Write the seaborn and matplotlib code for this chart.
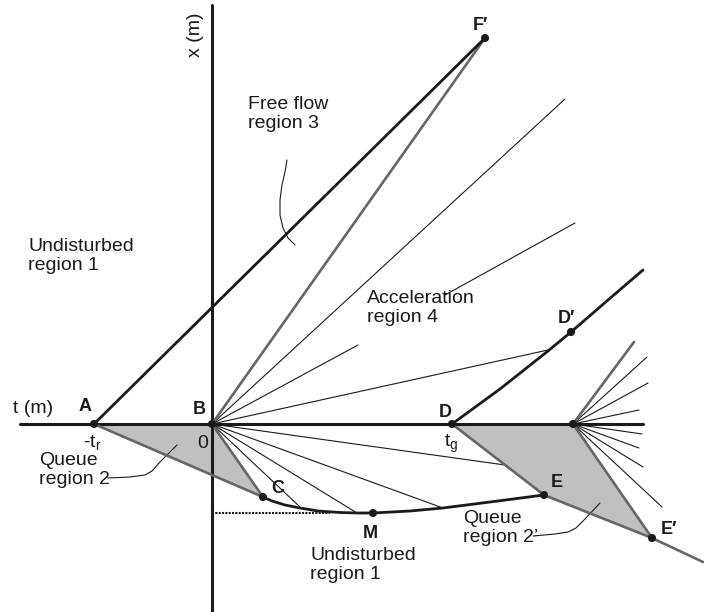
import matplotlib
matplotlib.use("Agg")
import matplotlib.pyplot as plt
import seaborn as sns

# ---- diagram data (t = horizontal, x = vertical, in drawing units) ----
t_axis = [20, 643]
t_axis_level = 424
x_axis_pos = 212
x_axis_span = [5, 612]

# labelled points
pt_name = ["A", "B", "C", "D", "D′", "E", "E′", "F′", "M", ""]
pt_t = [94, 212, 263, 452, 571, 544, 652, 485, 373, 573]
pt_x = [424, 424, 497, 424, 332, 495, 538, 38, 513, 424]
lab_t = [79, 193, 271, 439, 558, 551, 661, 473, 363]
lab_x = [411, 414, 493, 417, 323, 487, 534, 30, 538]

# fan of characteristics from B
fan_b_t = [565, 548, 505, 443, 357, 300]
fan_b_x = [99, 350, 465, 508, 513, 507]
# ray broken by the "Acceleration region 4" label
broken_ray_t = [[212, 358], [445, 575]]
broken_ray_x = [[424, 345], [295, 223]]

# second fan
fan2_t = [647, 648, 639, 642, 639, 643, 662]
fan2_x = [357, 383, 410, 434, 448, 467, 507]
fan2_gray_t = 634
fan2_gray_x = 342

# curves
cme_t = [263, 272, 285, 300, 318, 340, 357, 373, 410, 443, 490, 544]
cme_x = [497, 501, 505, 508, 511, 512.5, 513, 513, 511, 508, 502, 495]
dd_t = [452, 500, 548, 571, 608, 643]
dd_x = [424, 389, 351, 332, 300, 270]
shock_end_t = 703
shock_end_x = 562

# label leaders
lead3_t = [295, 288, 283, 280, 280, 282, 285, 287]
lead3_x = [245, 238, 228, 215, 200, 185, 172, 160]
lead2_t = [108, 130, 145, 152, 160, 177]
lead2_x = [478, 477, 475, 471, 462, 445]
lead2p_t = [533, 555, 568, 576, 585, 600]
lead2p_x = [536, 534, 532, 528, 519, 503]

# region texts: (text, t, x of first baseline)
regions = [
    ("Undisturbed\nregion 1", 28, 270),
    ("Free flow\nregion 3", 248, 128),
    ("Acceleration\nregion 4", 367, 322),
    ("Queue\nregion 2", 39, 484),
    ("Queue\nregion 2’", 463, 542),
    ("Undisturbed\nregion 1", 310, 579),
]

sns.set_style("white")
plt.rcParams["font.family"] = ["Liberation Sans", "DejaVu Sans"]
plt.rcParams["mathtext.fontset"] = "custom"
plt.rcParams["mathtext.rm"] = "Liberation Sans"
plt.rcParams["mathtext.it"] = "Liberation Sans:italic"

BLACK = "#1a1a1a"
GRAY = "#666666"
FILL = "#c0c0c0"
FS = 14

fig = plt.figure(figsize=(7.04, 6.12), dpi=100)
ax = fig.add_axes([0, 0, 1, 1])
ax.set_xlim(0, 704)
ax.set_ylim(612, 0)
ax.axis("off")

P = dict(zip(pt_name, zip(pt_t, pt_x)))
origin2 = (pt_t[-1], pt_x[-1])

# shaded queue regions
ax.fill([P["A"][0], P["B"][0], P["C"][0]], [P["A"][1], P["B"][1], P["C"][1]],
        color=FILL, lw=0, zorder=1)
ax.fill([P["D"][0], origin2[0], P["E′"][0], P["E"][0]],
        [P["D"][1], origin2[1], P["E′"][1], P["E"][1]], color=FILL, lw=0, zorder=1)

# thin fan lines
for et, ex in zip(fan_b_t, fan_b_x):
    ax.plot([P["B"][0], et], [P["B"][1], ex], color=BLACK, lw=0.8, zorder=2)
for seg_t, seg_x in zip(broken_ray_t, broken_ray_x):
    ax.plot(seg_t, seg_x, color=BLACK, lw=0.8, zorder=2)
for et, ex in zip(fan2_t, fan2_x):
    ax.plot([origin2[0], et], [origin2[1], ex], color=BLACK, lw=0.8, zorder=2)

# leaders
for lt, lx in [(lead3_t, lead3_x), (lead2_t, lead2_x), (lead2p_t, lead2p_x)]:
    sns.lineplot(x=lt, y=lx, sort=False, estimator=None, color=BLACK, lw=0.8, ax=ax, zorder=2)

# axes of the diagram
ax.plot(t_axis, [t_axis_level] * 2, color=BLACK, lw=2.2, zorder=3)
ax.plot([x_axis_pos] * 2, x_axis_span, color=BLACK, lw=2.2, zorder=3)

# dotted level of M
ax.plot([x_axis_pos, 330], [P["M"][1]] * 2, color=BLACK, lw=1.5, ls=(0, (1, 0.6)), zorder=3)

# gray shock / boundary lines
gray_segs = [
    (P["B"], P["F′"]), (P["A"], P["C"]), (P["B"], P["C"]),
    (P["D"], P["E"]), (P["E"], P["E′"]), (P["E′"], (shock_end_t, shock_end_x)),
    (origin2, P["E′"]), (origin2, (fan2_gray_t, fan2_gray_x)),
]
for p, q in gray_segs:
    ax.plot([p[0], q[0]], [p[1], q[1]], color=GRAY, lw=1.9, zorder=4)

# black trajectories
ax.plot([P["A"][0], P["F′"][0]], [P["A"][1], P["F′"][1]], color=BLACK, lw=2, zorder=5)
sns.lineplot(x=cme_t, y=cme_x, sort=False, estimator=None, color=BLACK, lw=2, ax=ax, zorder=5)
sns.lineplot(x=dd_t, y=dd_x, sort=False, estimator=None, color=BLACK, lw=2, ax=ax, zorder=5)

# dots
sns.scatterplot(x=pt_t, y=pt_x, color=BLACK, s=34, edgecolor="none", ax=ax, zorder=6)

# point labels
for name, lt, lx in zip(pt_name[:-1], lab_t, lab_x):
    ax.text(lt, lx, name, fontsize=13, fontweight="bold", ha="left", va="baseline", color=BLACK)

# region texts
for txt, rt, rx in regions:
    ax.text(rt, rx, txt, fontsize=FS, ha="left", va="baseline", color=BLACK, linespacing=1.15)

# axis labels and ticks
ax.text(13, 413, "t (m)", fontsize=FS, ha="left", va="baseline", color=BLACK)
ax.text(196, 35, "x (m)", fontsize=FS, ha="center", va="center", rotation=90, color=BLACK)
ax.text(83, 447, r"-t$_\mathrm{r}$", fontsize=FS, ha="left", va="baseline", color=BLACK)
ax.text(197, 448, "0", fontsize=FS, ha="left", va="baseline", color=BLACK)
ax.text(444, 447, r"t$_\mathrm{g}$", fontsize=FS, ha="left", va="baseline", color=BLACK)

fig.savefig("out.png", dpi=100)
